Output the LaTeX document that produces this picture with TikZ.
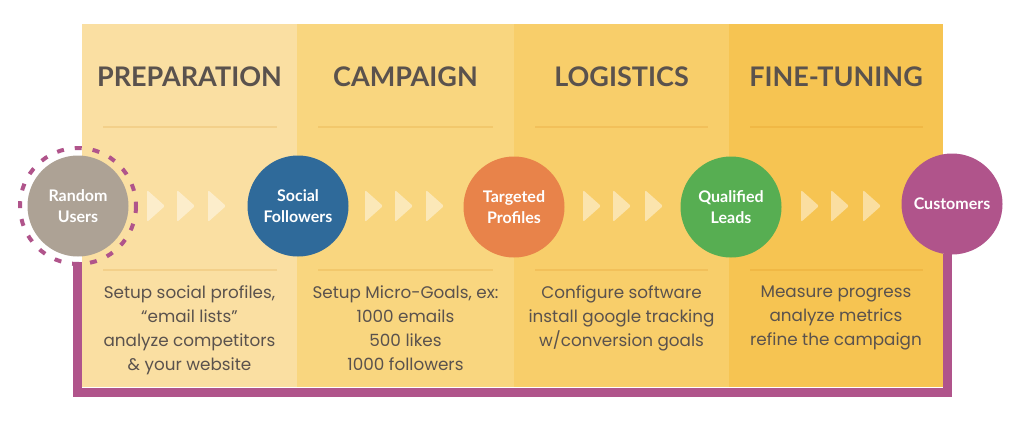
\documentclass[tikz,border=0pt]{standalone}
\usepackage{fontspec}
\setmainfont{Lato}
\newfontfamily\bodyfont{Poppins}
\usetikzlibrary{calc}
\definecolor{colA}{HTML}{FADFA2}
\definecolor{colB}{HTML}{F9D67F}
\definecolor{colC}{HTML}{F8CE6A}
\definecolor{colD}{HTML}{F6C452}
\definecolor{sepA}{HTML}{F3D08A}
\definecolor{sepB}{HTML}{F2C86C}
\definecolor{sepC}{HTML}{F2C05A}
\definecolor{sepD}{HTML}{F0B845}
\definecolor{txt}{HTML}{5A524D}
\definecolor{purp}{HTML}{B0548B}
\definecolor{grayc}{HTML}{ADA295}
\definecolor{bluec}{HTML}{2F6A9A}
\definecolor{orangec}{HTML}{E8834A}
\definecolor{greenc}{HTML}{57AE52}
\tikzset{
  heading/.style={font=\fontsize{27}{32}\selectfont\bfseries, text=txt, anchor=center},
  body/.style={font=\bodyfont\fontsize{16.8}{24}\selectfont, text=txt, align=center, anchor=north},
  stage/.style={circle, minimum size=101pt, inner sep=0pt, text=white, align=center,
     font=\fontsize{16}{21}\selectfont\bfseries},
  chev/.style={fill=white, fill opacity=0.45, rounded corners=2pt},
  sepline/.style={line width=1.3pt}
}
\begin{document}
\begin{tikzpicture}[x=1pt,y=-1pt]
\useasboundingbox (0,0) rectangle (1024,420);
\fill[white] (0,0) rectangle (1024,420);
% purple frame
\coordinate (pl) at (77.5,262);
\coordinate (pr) at (947.5,254);
\draw[purp, line width=9.5pt] (pl) -- (77.5,392.5) -- (947.5,392.5) -- (pr);
% columns
\fill[colA] (82,24) rectangle (297,387);
\fill[colB] (297,24) rectangle (514,387);
\fill[colC] (514,24) rectangle (729,387);
\fill[colD] (729,24) rectangle (943,387);
% separators
\foreach \a/\b/\c in {103/277/sepA, 318/493/sepB, 535/708/sepC, 750/923/sepD}{
  \draw[\c, sepline] (\a,127) -- (\b,127);
  \draw[\c, sepline] (\a,270) -- (\b,270);
}
% headings
\node[heading] (h1) at (189.5,77) {PREPARATION};
\node[heading] (h2) at (405.5,77) {CAMPAIGN};
\node[heading] (h3) at (621.5,77) {LOGISTICS};
\node[heading] (h4) at (836,77) {FINE-TUNING};
% chevrons
\foreach \x in {156,186,217, 374,404,435, 592,622,654, 810,840,872}{
  \fill[chev] (\x-9,190) -- (\x+9,206) -- (\x-9,222) -- cycle;
}
% dashed ring
\draw[purp, line width=4pt, dash pattern=on 7pt off 11pt] (78,206) circle (58);
% circles
\node[stage, fill=grayc] (ru) at (78,206) {Random\\Users};
\node[stage, fill=bluec] (sf) at (298,206) {Social\\Followers};
\node[stage, fill=orangec] (tp) at (514,207) {Targeted\\Profiles};
\node[stage, fill=greenc] (ql) at (731,207) {Qualified\\Leads};
\node[stage, fill=purp] (cu) at (952,204) {Customers};
% body texts
\node[body] (b1) at (189.5,282) {Setup social profiles,\\“email lists”\\analyze competitors\\\& your website};
\node[body] (b2) at (405.5,282) {Setup Micro-Goals, ex:\\1000 emails\\500 likes\\1000 followers};
\node[body] (b3) at (621.5,282) {Configure software\\install google tracking\\w/conversion goals};
\node[body] (b4) at (836,282) {Measure progress\\analyze metrics\\refine the campaign};
\end{tikzpicture}
\end{document}
